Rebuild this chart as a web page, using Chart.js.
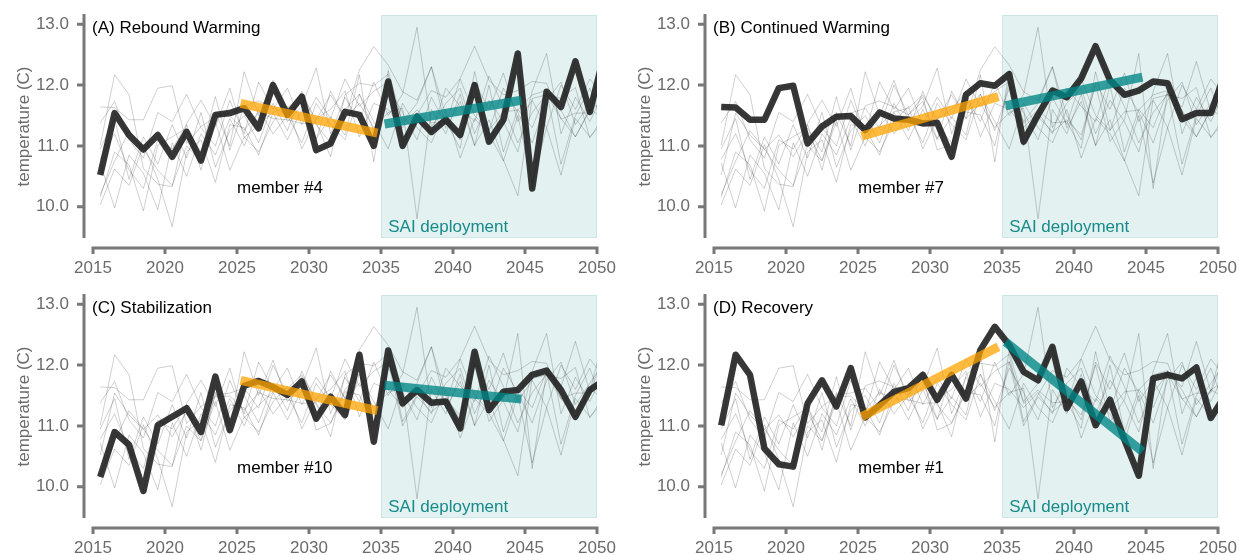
<!DOCTYPE html>
<html>
<head>
<meta charset="utf-8">
<script src="https://cdn.jsdelivr.net/npm/chart.js@4"></script>
<style>
  html, body { margin: 0; padding: 0; background: #fff; overflow: hidden; }
  canvas { position: absolute; }
</style>
</head>
<body>
<canvas id="panelA" width="621" height="280" style="left:0;top:0"></canvas>
<canvas id="panelB" width="618" height="280" style="left:621px;top:0"></canvas>
<canvas id="panelC" width="621" height="275" style="left:0;top:280px"></canvas>
<canvas id="panelD" width="618" height="275" style="left:621px;top:280px"></canvas>
<script>

// annual means, plotted at mid-year
const years = [2015.5, 2016.5, 2017.5, 2018.5, 2019.5, 2020.5, 2021.5, 2022.5, 2023.5, 2024.5,
  2025.5, 2026.5, 2027.5, 2028.5, 2029.5, 2030.5, 2031.5, 2032.5, 2033.5, 2034.5,
  2035.5, 2036.5, 2037.5, 2038.5, 2039.5, 2040.5, 2041.5, 2042.5, 2043.5, 2044.5,
  2045.5, 2046.5, 2047.5, 2048.5, 2049.5, 2050.5];

const member1 = [11.01, 12.17, 11.84, 10.63, 10.37, 10.33, 11.37, 11.75, 11.32, 11.95,
  11.14, 11.34, 11.56, 11.62, 11.84, 11.43, 11.84, 11.45, 12.25, 12.63,
  12.33, 11.89, 11.75, 12.30, 11.29, 11.73, 11.01, 11.43, 10.77, 10.18,
  11.78, 11.84, 11.78, 11.96, 11.13, 11.50];
const member2 = [10.03, 10.62, 10.35, 11.02, 10.45, 9.67, 10.90, 11.10, 10.40, 11.35,
  11.30, 10.85, 11.55, 11.10, 11.60, 11.10, 11.90, 11.45, 11.70, 11.30,
  11.55, 11.62, 9.80, 11.60, 11.20, 11.85, 11.00, 12.00, 10.90, 11.60,
  11.30, 11.90, 10.70, 11.50, 11.95, 11.30];
const member3 = [10.78, 11.20, 10.60, 10.30, 11.10, 10.95, 11.35, 10.60, 11.55, 11.00,
  12.22, 11.50, 12.08, 11.40, 11.65, 12.28, 11.20, 11.80, 11.40, 12.05,
  11.50, 11.85, 12.95, 11.30, 11.70, 11.95, 11.20, 11.75, 11.40, 10.90,
  11.90, 12.52, 11.20, 11.80, 11.40, 11.90];
const member4 = [10.52, 11.54, 11.18, 10.94, 11.18, 10.82, 11.23, 10.76, 11.51, 11.54,
  11.62, 11.29, 12.00, 11.51, 11.81, 10.93, 11.04, 11.56, 11.51, 11.00,
  12.06, 11.00, 11.48, 11.23, 11.43, 11.18, 12.00, 11.07, 11.43, 12.52,
  10.30, 11.89, 11.64, 12.39, 11.56, 12.50];
const member5 = [11.38, 11.73, 11.10, 10.80, 11.55, 11.40, 11.85, 11.30, 11.00, 11.75,
  11.20, 12.05, 11.60, 11.95, 11.35, 11.80, 11.45, 12.10, 11.65, 11.90,
  12.05, 11.40, 11.70, 12.30, 11.50, 11.10, 12.05, 11.60, 12.20, 11.40,
  11.75, 11.30, 12.00, 11.60, 12.10, 11.80];
const member6 = [10.72, 9.98, 10.85, 10.55, 9.95, 11.05, 10.50, 11.20, 10.85, 11.45,
  11.00, 11.60, 11.20, 11.50, 11.05, 11.70, 11.35, 11.10, 11.85, 11.40,
  10.95, 11.70, 11.30, 11.05, 11.60, 10.80, 11.45, 11.20, 10.75, 11.50,
  10.39, 11.30, 10.52, 11.45, 11.15, 11.40];
const member7 = [11.64, 11.63, 11.43, 11.43, 11.95, 11.99, 11.04, 11.32, 11.48, 11.49,
  11.26, 11.55, 11.45, 11.43, 11.37, 11.38, 10.82, 11.84, 12.03, 11.99,
  12.18, 11.07, 11.51, 11.91, 11.80, 12.11, 12.64, 12.08, 11.84, 11.91,
  12.06, 12.03, 11.44, 11.54, 11.54, 12.20];
const member8 = [10.95, 11.45, 10.45, 11.15, 10.70, 11.35, 10.80, 11.55, 10.65, 11.25,
  11.50, 11.05, 11.70, 11.25, 11.90, 11.35, 11.05, 11.60, 11.85, 11.25,
  11.95, 11.55, 11.10, 11.80, 11.35, 12.10, 11.50, 11.25, 11.95, 11.55,
  11.05, 11.75, 12.05, 11.35, 11.70, 12.05];
const member9 = [10.20, 10.75, 11.25, 10.95, 10.60, 10.35, 11.00, 10.75, 11.40, 10.60,
  11.15, 10.90, 11.40, 11.65, 10.95, 11.45, 11.60, 11.90, 11.15, 11.70,
  11.60, 11.30, 11.55, 11.20, 11.95, 11.65, 11.40, 12.15, 11.65, 11.05,
  11.55, 11.85, 11.45, 11.15, 11.60, 11.45];
const member10 = [10.16, 10.90, 10.69, 9.93, 11.01, 11.15, 11.29, 10.90, 11.81, 10.93,
  11.66, 11.74, 11.64, 11.51, 11.73, 11.12, 11.48, 11.18, 12.17, 10.74,
  12.24, 11.37, 11.59, 11.38, 11.40, 10.96, 12.22, 11.26, 11.56, 11.59,
  11.84, 11.91, 11.59, 11.15, 11.59, 11.75];

const ensemble = [member1, member2, member3, member4, member5, member6, member7, member8, member9, member10];

// 10-year trend segments before / after deployment
const preYears = [2025.25, 2034.75];
const postYears = [2035.25, 2044.75];
const preTrendA = [11.70, 11.21];
const postTrendA = [11.36, 11.75];
const preTrendB = [11.16, 11.81];
const postTrendB = [11.66, 12.13];
const preTrendC = [11.75, 11.25];
const postTrendC = [11.67, 11.44];
const preTrendD = [11.15, 12.30];
const postTrendD = [12.38, 10.58];

const xTicks = [2015, 2020, 2025, 2030, 2035, 2040, 2045, 2050];
const yTicks = [10, 11, 12, 13];
const saiStart = 2035;
const saiEnd = 2050;

const FONT = "'Liberation Sans', Arial, Helvetica, sans-serif";
const AXIS_GREY = "#787878";
const TEXT_GREY = "#6b6b6b";
const TEAL_TEXT = "#178a8a";

const decor = {
  id: "decor",
  beforeDatasetsDraw(chart) {
    const { ctx, chartArea: a, scales: { x } } = chart;
    const x0 = x.getPixelForValue(saiStart);
    const x1 = x.getPixelForValue(saiEnd);
    ctx.save();
    ctx.fillStyle = "rgba(0,128,128,0.11)";
    ctx.fillRect(x0, a.top, x1 - x0, a.bottom - a.top);
    ctx.strokeStyle = "rgba(0,128,128,0.10)";
    ctx.lineWidth = 1;
    ctx.strokeRect(x0 + 0.5, a.top + 0.5, x1 - x0 - 1, a.bottom - a.top - 1);
    ctx.restore();
  },
  afterDraw(chart, args, opts) {
    const { ctx, chartArea: a, scales: { x, y } } = chart;
    ctx.save();
    ctx.strokeStyle = AXIS_GREY;
    ctx.lineWidth = 3;
    ctx.lineCap = "butt";

    // y axis, pulled away from the panel
    const ax = a.left - 9;
    ctx.beginPath();
    ctx.moveTo(ax, a.top - 1);
    ctx.lineTo(ax, a.bottom);
    yTicks.forEach((v) => {
      const py = y.getPixelForValue(v);
      ctx.moveTo(ax, py);
      ctx.lineTo(ax - 7, py);
    });
    ctx.stroke();

    // x axis
    const ay = a.bottom + 10;
    ctx.beginPath();
    ctx.moveTo(a.left - 1.5, ay);
    ctx.lineTo(a.right + 1.5, ay);
    xTicks.forEach((v) => {
      const px = x.getPixelForValue(v);
      ctx.moveTo(px, ay);
      ctx.lineTo(px, ay + 6);
    });
    ctx.stroke();

    ctx.font = `17px ${FONT}`;
    ctx.textAlign = "left";
    ctx.textBaseline = "middle";
    ctx.fillStyle = "#000";
    ctx.fillText(opts.title, a.left - 1, a.top + 13);
    ctx.fillText(opts.member, x.getPixelForValue(2025), y.getPixelForValue(10.31));
    ctx.fillStyle = TEAL_TEXT;
    ctx.fillText("SAI deployment", x.getPixelForValue(2035.5), y.getPixelForValue(9.66));
    ctx.restore();
  },
};

function toPoints(xs, ys) {
  return xs.map((x, i) => ({ x, y: ys[i] }));
}

// keep the plot box where it is: no extra room for edge labels
function noEdgePadding(s) {
  s.paddingTop = 0;
  s.paddingBottom = 0;
  s.paddingLeft = 0;
  s.paddingRight = 0;
}

function createPanel(canvasId, title, memberLabel, highlight, preTrend, postTrend, padRight) {
  const canvas = document.getElementById(canvasId);

  const greyLines = ensemble.map((vals) => ({
    data: toPoints(years, vals),
    borderColor: "rgba(0,0,0,0.19)",
    borderWidth: 1,
    order: 3,
  }));

  const datasets = [
    ...greyLines,
    {
      data: toPoints(years, highlight),
      borderColor: "rgba(25,25,25,0.87)",
      borderWidth: 6.5,
      borderJoinStyle: "round",
      order: 2,
    },
    {
      data: toPoints(preYears, preTrend),
      borderColor: "rgba(255,163,0,0.75)",
      borderWidth: 9,
      borderCapStyle: "butt",
      order: 1,
    },
    {
      data: toPoints(postYears, postTrend),
      borderColor: "rgba(0,133,133,0.78)",
      borderWidth: 9,
      borderCapStyle: "butt",
      order: 0,
    },
  ];

  return new Chart(canvas, {
    type: "line",
    data: { datasets },
    options: {
      responsive: false,
      animation: false,
      events: [],
      layout: { padding: { top: 15, right: padRight, left: 0, bottom: 0 } },
      datasets: { line: { clip: 0, pointRadius: 0, tension: 0 } },
      scales: {
        x: {
          type: "linear",
          min: 2015,
          max: 2050,
          grid: { display: false, drawTicks: false },
          border: { display: false },
          afterBuildTicks: (s) => { s.ticks = xTicks.map((v) => ({ value: v })); },
          afterFit: (s) => { s.height = canvas.height - 238; noEdgePadding(s); },
          ticks: {
            padding: 20,
            color: TEXT_GREY,
            font: { family: FONT, size: 17 },
            maxRotation: 0,
            callback: (v) => String(v),
          },
        },
        y: {
          type: "linear",
          min: 9.485,
          max: 13.153,
          grid: { display: false, drawTicks: false },
          border: { display: false },
          afterBuildTicks: (s) => { s.ticks = yTicks.map((v) => ({ value: v })); },
          afterFit: (s) => { s.width = 93; noEdgePadding(s); },
          ticks: {
            padding: 24,
            color: TEXT_GREY,
            font: { family: FONT, size: 17 },
            callback: (v) => Number(v).toFixed(1),
          },
          title: {
            display: true,
            text: "temperature (C)",
            color: TEXT_GREY,
            font: { family: FONT, size: 17 },
            padding: { top: 14, bottom: 0 },
          },
        },
      },
      plugins: {
        legend: { display: false },
        tooltip: { enabled: false },
        decor: { title, member: memberLabel },
      },
    },
    plugins: [decor],
  });
}

createPanel("panelA", "(A) Rebound Warming", "member #4", member4, preTrendA, postTrendA, 24);
createPanel("panelB", "(B) Continued Warming", "member #7", member7, preTrendB, postTrendB, 21);
createPanel("panelC", "(C) Stabilization", "member #10", member10, preTrendC, postTrendC, 24);
createPanel("panelD", "(D) Recovery", "member #1", member1, preTrendD, postTrendD, 21);
</script>
</body>
</html>
